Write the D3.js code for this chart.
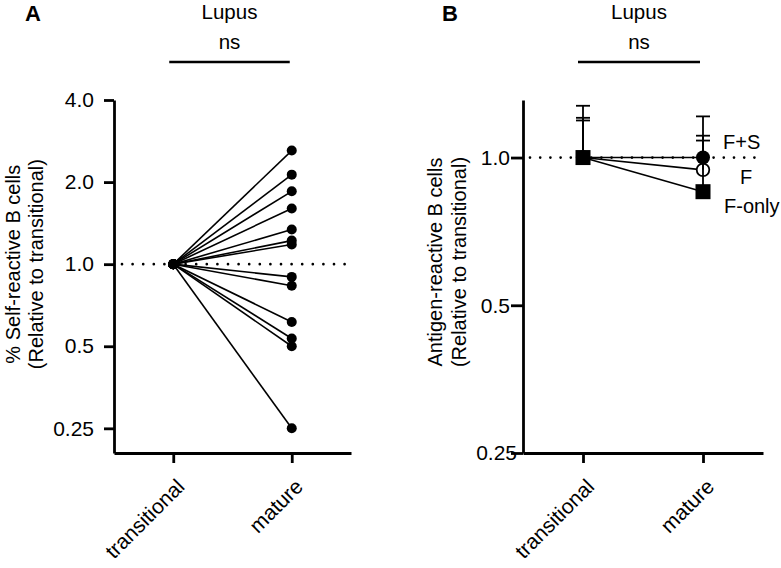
<!DOCTYPE html>
<html>
<head>
<meta charset="utf-8">
<script src="https://cdn.jsdelivr.net/npm/d3@7"></script>
<style>
  body { margin: 0; background: #fff; }
  svg { display: block; }
  text { font-family: "Liberation Sans", Arial, Helvetica, sans-serif; fill: #000; }
</style>
</head>
<body>
<svg id="chart" width="781" height="568"></svg>
<script>
// ---------- DATA ----------
const categories = ["transitional", "mature"];

// Panel A: self-reactive B cells, each donor relative to transitional
const selfTransitional = [1, 1, 1, 1, 1, 1, 1, 1, 1, 1, 1, 1, 1];
const selfMature = [2.61, 2.13, 1.85, 1.60, 1.34, 1.22, 1.18, 0.898, 0.833, 0.614, 0.534, 0.50, 0.25];
const yTicksA = [4, 2, 1, 0.5, 0.25];
const yTickLabelsA = ["4.0", "2.0", "1.0", "0.5", "0.25"];

// Panel B: antigen-reactive B cells (means and upper error bars)
const seriesB = ["F+S", "F", "F-only"];
const meanTransitionalB = [1, 1, 1];
const meanMatureB = [1.0, 0.944, 0.852];
const upperTransitionalB = [1.275, 1.205, 1.19];
const upperMatureB = [1.083, 1.108, 1.213];
const yTicksB = [1, 0.5, 0.25];
const yTickLabelsB = ["1.0", "0.5", "0.25"];

const titleText = "Lupus";
const sigText = "ns";

// ---------- DRAW ----------
const svg = d3.select("#chart");
const FS = 21;      // tick labels
const FS_T = 20.5;  // titles
const FS_Y = 20;    // rotated y titles
const FS_X = 21;    // rotated category labels

function ticksLabels(vals, labels) {
  return d => labels[vals.indexOf(d)];
}

function styleAxis(g, w, fs) {
  g.selectAll("path.domain").attr("stroke", "#000").attr("stroke-width", w).attr("fill", "none");
  g.selectAll(".tick line").attr("stroke", "#000").attr("stroke-width", w);
  g.selectAll(".tick text").attr("font-size", fs).attr("fill", "#000")
    .style("font-family", '"Liberation Sans", Arial, sans-serif');
}

// ----- Panel A -----
const yA = d3.scaleLog().base(2).domain([0.203, 4]).range([453, 100]);
const xA = d3.scalePoint().domain(categories).range([114, 351]).padding(0.5);

const gA = svg.append("g");

const yAxA = gA.append("g").attr("transform", "translate(114,0)")
  .call(d3.axisLeft(yA).tickValues(yTicksA).tickFormat(ticksLabels(yTicksA, yTickLabelsA))
    .tickSize(10).tickSizeOuter(0).tickPadding(10));
styleAxis(yAxA, 2.8, FS);

const xAxA = gA.append("g").attr("transform", "translate(0,453)")
  .call(d3.axisBottom(xA).tickSize(10).tickSizeOuter(0));
styleAxis(xAxA, 2.8, FS_X);
xAxA.selectAll(".tick text")
  .attr("text-anchor", "end")
  .attr("y", 0).attr("dy", 0)
  .attr("transform", "translate(12,35) rotate(-45)");

gA.append("line")
  .attr("x1", 122).attr("x2", 351)
  .attr("y1", yA(1)).attr("y2", yA(1))
  .attr("stroke", "#000").attr("stroke-width", 2.7)
  .attr("stroke-linecap", "round").attr("stroke-dasharray", "0 10.6");

selfMature.forEach((v, i) => {
  gA.append("line")
    .attr("x1", xA("transitional")).attr("y1", yA(selfTransitional[i]))
    .attr("x2", xA("mature")).attr("y2", yA(v))
    .attr("stroke", "#000").attr("stroke-width", 1.6);
});
selfMature.forEach((v, i) => {
  gA.append("circle").attr("cx", xA("transitional")).attr("cy", yA(selfTransitional[i])).attr("r", 5).attr("fill", "#000");
  gA.append("circle").attr("cx", xA("mature")).attr("cy", yA(v)).attr("r", 5).attr("fill", "#000");
});

const ylA = gA.append("text").attr("transform", `translate(20,${yA(1)}) rotate(-90)`)
  .attr("text-anchor", "middle").attr("font-size", FS_Y);
ylA.append("tspan").attr("x", 0).attr("y", 0).text("% Self-reactive B cells");
ylA.append("tspan").attr("x", 0).attr("y", 23).text("(Relative to transitional)");

svg.append("text").attr("x", 25).attr("y", 21).attr("font-size", 22).attr("font-weight", "bold").text("A");
const barA = [xA("transitional") - 4, xA("mature") - 2];
gA.append("line").attr("x1", barA[0]).attr("x2", barA[1]).attr("y1", 62).attr("y2", 62)
  .attr("stroke", "#000").attr("stroke-width", 2.5);
gA.append("text").attr("x", (barA[0] + barA[1]) / 2).attr("y", 19).attr("text-anchor", "middle").attr("font-size", FS_T).text(titleText);
gA.append("text").attr("x", (barA[0] + barA[1]) / 2).attr("y", 49).attr("text-anchor", "middle").attr("font-size", FS_T).text(sigText);

// ----- Panel B -----
const yB = d3.scaleLog().base(2).domain([0.25, 1.31]).range([453, 100]);
const xB = d3.scalePoint().domain(categories).range([523, 763]).padding(0.5);
const gB = svg.append("g");

const yAxB = gB.append("g").attr("transform", "translate(523,0)")
  .call(d3.axisLeft(yB).tickValues(yTicksB).tickFormat(ticksLabels(yTicksB, yTickLabelsB))
    .tickSize(12).tickSizeOuter(0).tickPadding(1));
styleAxis(yAxB, 2.8, FS);
yAxB.selectAll(".tick").filter(d => d === 0.25).select("text").attr("x", -6);

const xAxB = gB.append("g").attr("transform", "translate(0,453)")
  .call(d3.axisBottom(xB).tickSize(10).tickSizeOuter(0));
styleAxis(xAxB, 2.8, FS_X);
xAxB.selectAll(".tick text")
  .attr("text-anchor", "end")
  .attr("y", 0).attr("dy", 0)
  .attr("transform", "translate(12,35) rotate(-45)");

gB.append("line")
  .attr("x1", 530).attr("x2", 763)
  .attr("y1", yB(1)).attr("y2", yB(1))
  .attr("stroke", "#000").attr("stroke-width", 2.7)
  .attr("stroke-linecap", "round").attr("stroke-dasharray", "0 10.2");

seriesB.forEach((s, i) => {
  gB.append("line")
    .attr("x1", xB("transitional")).attr("y1", yB(meanTransitionalB[i]))
    .attr("x2", xB("mature")).attr("y2", yB(meanMatureB[i]))
    .attr("stroke", "#000").attr("stroke-width", 1.6);
});

function marker(s, cx, cy) {
  if (s === "F-only") {
    gB.append("rect").attr("x", cx - 7.5).attr("y", cy - 7.5).attr("width", 15).attr("height", 15).attr("fill", "#000");
  } else if (s === "F") {
    gB.append("circle").attr("cx", cx).attr("cy", cy).attr("r", 6.3).attr("fill", "#fff").attr("stroke", "#000").attr("stroke-width", 1.8);
  } else {
    gB.append("circle").attr("cx", cx).attr("cy", cy).attr("r", 7).attr("fill", "#000");
  }
}
["F", "F+S", "F-only"].forEach(s => {
  const i = seriesB.indexOf(s);
  marker(s, xB("mature"), yB(meanMatureB[i]));
  marker(s, xB("transitional"), yB(meanTransitionalB[i]));
});

function errBar(cx, y0, y1) {
  gB.append("line").attr("x1", cx).attr("x2", cx).attr("y1", y0).attr("y2", y1)
    .attr("stroke", "#000").attr("stroke-width", 1.8);
  gB.append("line").attr("x1", cx - 7).attr("x2", cx + 7).attr("y1", y1).attr("y2", y1)
    .attr("stroke", "#000").attr("stroke-width", 1.8);
}
seriesB.forEach((s, i) => {
  errBar(xB("transitional"), yB(meanTransitionalB[i]), yB(upperTransitionalB[i]));
  errBar(xB("mature"), yB(meanMatureB[i]), yB(upperMatureB[i]));
});

const labelPos = { "F+S": [723, 149], "F": [740, 184], "F-only": [724, 213] };
seriesB.forEach(s => {
  gB.append("text").attr("x", labelPos[s][0]).attr("y", labelPos[s][1]).attr("font-size", FS_Y).text(s);
});

const ylB = gB.append("text").attr("transform", `translate(442,262) rotate(-90)`)
  .attr("text-anchor", "middle").attr("font-size", FS_Y);
ylB.append("tspan").attr("x", 0).attr("y", 0).text("Antigen-reactive B cells");
ylB.append("tspan").attr("x", 0).attr("y", 24).text("(Relative to transitional)");

svg.append("text").attr("x", 442).attr("y", 21).attr("font-size", 22).attr("font-weight", "bold").text("B");
const barB = [xB("transitional") - 5, xB("mature") - 3];
gB.append("line").attr("x1", barB[0]).attr("x2", barB[1]).attr("y1", 62).attr("y2", 62)
  .attr("stroke", "#000").attr("stroke-width", 2.5);
gB.append("text").attr("x", (barB[0] + barB[1]) / 2).attr("y", 19).attr("text-anchor", "middle").attr("font-size", FS_T).text(titleText);
gB.append("text").attr("x", (barB[0] + barB[1]) / 2).attr("y", 49).attr("text-anchor", "middle").attr("font-size", FS_T).text(sigText);
</script>
</body>
</html>
